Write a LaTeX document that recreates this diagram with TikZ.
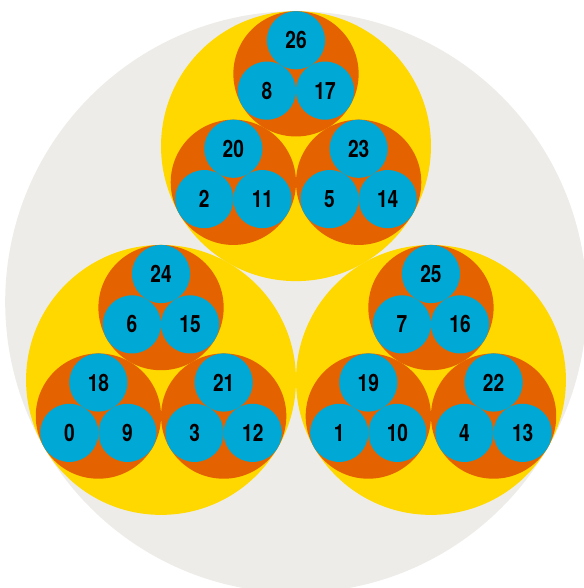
\documentclass[tikz,border=0pt]{standalone}
\usepackage{fontspec}
\newfontfamily\numfont[FakeStretch=0.8]{TeX Gyre Heros}
\definecolor{discgrey}{RGB}{237,236,232}
\definecolor{ringyellow}{RGB}{255,216,0}
\definecolor{ringorange}{RGB}{228,99,0}
\definecolor{cellblue}{RGB}{0,168,214}

\begin{document}
\begin{tikzpicture}[x=1cm,y=1cm]
\tikzset{
  disc/.style={circle,inner sep=0pt,fill=discgrey,minimum size=14.54cm},
  yellowdisc/.style={circle,inner sep=0pt,fill=ringyellow,minimum size=6.748cm},
  orangedisc/.style={circle,inner sep=0pt,fill=ringorange,minimum size=3.132cm},
  bluedisc/.style={circle,inner sep=0pt,fill=cellblue,minimum size=1.453cm,
    font=\numfont\bfseries\fontsize{17}{17}\selectfont}
}
\useasboundingbox (-7.4,-7.15) rectangle (7.175,7.55);
% outer disc
\node[disc] (n_all) at (0,0) {};
% yellow level
\node[yellowdisc] (n_T) at (0,3.896) {};
\node[yellowdisc] (n_L) at (-3.374,-1.948) {};
\node[yellowdisc] (n_R) at (3.374,-1.948) {};
% orange level
\node[orangedisc] (n_Tt) at (0,5.704) {};
\node[orangedisc] (n_Tl) at (-1.566,2.992) {};
\node[orangedisc] (n_Tr) at (1.566,2.992) {};
\node[orangedisc] (n_Lt) at (-3.374,-0.140) {};
\node[orangedisc] (n_Ll) at (-4.940,-2.852) {};
\node[orangedisc] (n_Lr) at (-1.808,-2.852) {};
\node[orangedisc] (n_Rt) at (3.374,-0.140) {};
\node[orangedisc] (n_Rl) at (1.808,-2.852) {};
\node[orangedisc] (n_Rr) at (4.940,-2.852) {};
% blue level
\node[bluedisc] (n_26) at (0,6.543) {26};
\node[bluedisc] (n_8) at (-0.727,5.284) {8};
\node[bluedisc] (n_17) at (0.727,5.284) {17};
\node[bluedisc] (n_20) at (-1.566,3.831) {20};
\node[bluedisc] (n_2) at (-2.293,2.572) {2};
\node[bluedisc] (n_11) at (-0.839,2.572) {11};
\node[bluedisc] (n_23) at (1.566,3.831) {23};
\node[bluedisc] (n_5) at (0.839,2.572) {5};
\node[bluedisc] (n_14) at (2.293,2.572) {14};
\node[bluedisc] (n_24) at (-3.374,0.699) {24};
\node[bluedisc] (n_6) at (-4.101,-0.560) {6};
\node[bluedisc] (n_15) at (-2.647,-0.560) {15};
\node[bluedisc] (n_18) at (-4.940,-2.013) {18};
\node[bluedisc] (n_0) at (-5.667,-3.272) {0};
\node[bluedisc] (n_9) at (-4.213,-3.272) {9};
\node[bluedisc] (n_21) at (-1.808,-2.013) {21};
\node[bluedisc] (n_3) at (-2.535,-3.272) {3};
\node[bluedisc] (n_12) at (-1.081,-3.272) {12};
\node[bluedisc] (n_25) at (3.374,0.699) {25};
\node[bluedisc] (n_7) at (2.647,-0.560) {7};
\node[bluedisc] (n_16) at (4.101,-0.560) {16};
\node[bluedisc] (n_19) at (1.808,-2.013) {19};
\node[bluedisc] (n_1) at (1.081,-3.272) {1};
\node[bluedisc] (n_10) at (2.535,-3.272) {10};
\node[bluedisc] (n_22) at (4.940,-2.013) {22};
\node[bluedisc] (n_4) at (4.213,-3.272) {4};
\node[bluedisc] (n_13) at (5.667,-3.272) {13};
\end{tikzpicture}
\end{document}
